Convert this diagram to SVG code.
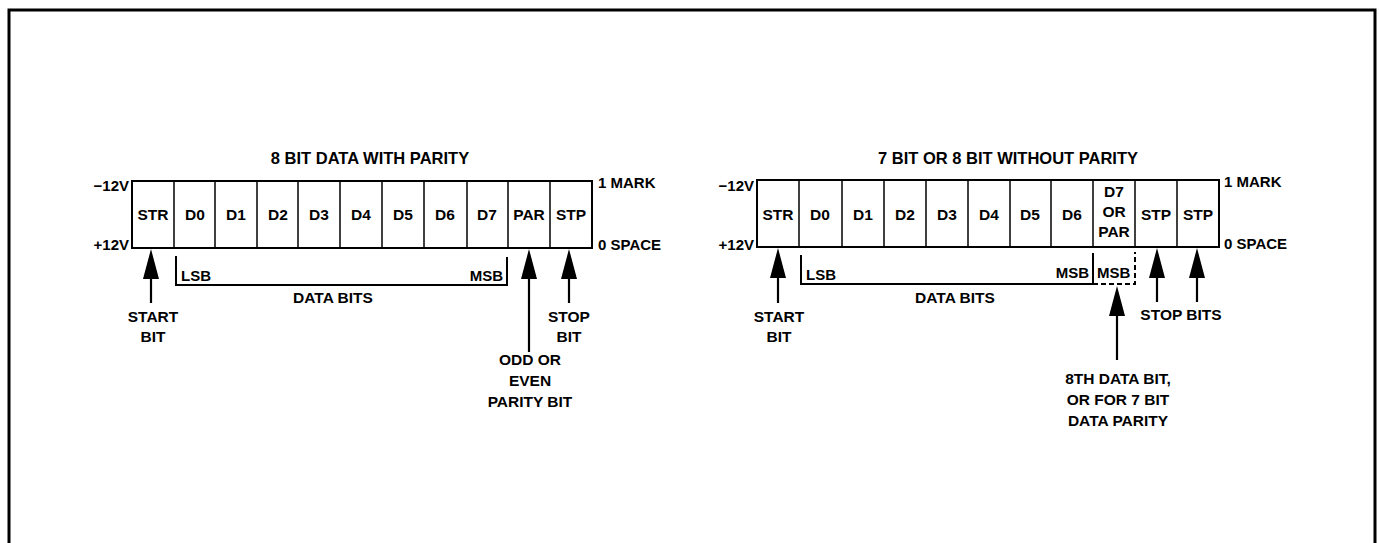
<svg xmlns="http://www.w3.org/2000/svg" width="1379" height="543" viewBox="0 0 1379 543">
<style>
text{font-family:"Liberation Sans",Arial,sans-serif;font-weight:bold;fill:#000}
.t{font-size:16.5px;text-anchor:middle}
.c{font-size:15.5px;text-anchor:middle}
.s{font-size:15px}
.r{text-anchor:end}
.l{font-size:15.5px;text-anchor:middle}
.box{fill:#fff;stroke:#000;stroke-width:2}
.div{stroke:#000;stroke-width:1.5}
.br{fill:none;stroke:#000;stroke-width:2}
.dash{fill:none;stroke:#000;stroke-width:2;stroke-dasharray:5 3}
.arr{stroke:#000;stroke-width:2.2;marker-end:url(#ah)}
</style>
<defs>
<marker id="ah" viewBox="0 0 30 16" refX="20" refY="8" markerWidth="30" markerHeight="16" markerUnits="userSpaceOnUse" orient="auto">
<path d="M0,0 L30,8 L0,16 z" fill="#000"/>
</marker>
</defs>
<rect width="1379" height="543" fill="#fff"/>
<path d="M9,545 V10 H1375 V545" fill="none" stroke="#000" stroke-width="3"/>

<g id="left-frame">
<text class="t" x="370" y="164">8 BIT DATA WITH PARITY</text>
<text class="s r" x="129" y="191">−12V</text>
<text class="s r" x="129" y="250">+12V</text>
<text class="s" x="598" y="188">1 MARK</text>
<text class="s" x="598" y="250">0 SPACE</text>
<rect class="box" x="132" y="181" width="460" height="67"/>
<g class="div">
<line x1="174" y1="181" x2="174" y2="248"/><line x1="215" y1="181" x2="215" y2="248"/>
<line x1="257" y1="181" x2="257" y2="248"/><line x1="298" y1="181" x2="298" y2="248"/>
<line x1="340" y1="181" x2="340" y2="248"/><line x1="382" y1="181" x2="382" y2="248"/>
<line x1="424" y1="181" x2="424" y2="248"/><line x1="467" y1="181" x2="467" y2="248"/>
<line x1="508" y1="181" x2="508" y2="248"/><line x1="550" y1="181" x2="550" y2="248"/>
</g>
<text class="c" x="153" y="220">STR</text>
<text class="c" x="195" y="220">D0</text>
<text class="c" x="236" y="220">D1</text>
<text class="c" x="278" y="220">D2</text>
<text class="c" x="319" y="220">D3</text>
<text class="c" x="361" y="220">D4</text>
<text class="c" x="403" y="220">D5</text>
<text class="c" x="445" y="220">D6</text>
<text class="c" x="487" y="220">D7</text>
<text class="c" x="529" y="220">PAR</text>
<text class="c" x="571" y="220">STP</text>
<text class="s" x="181" y="281">LSB</text>
<text class="s r" x="503" y="281">MSB</text>
<text class="l" x="333" y="303">DATA BITS</text>
<text class="l" x="153" y="322">START</text>
<text class="l" x="153" y="342">BIT</text>
<text class="l" x="569" y="322">STOP</text>
<text class="l" x="569" y="342">BIT</text>
<text class="l" x="530" y="365">ODD OR</text>
<text class="l" x="530" y="386">EVEN</text>
<text class="l" x="530" y="407">PARITY BIT</text>
</g>

<g id="right-frame">
<text class="t" x="1008" y="164">7 BIT OR 8 BIT WITHOUT PARITY</text>
<text class="s r" x="754" y="191">−12V</text>
<text class="s r" x="754" y="250">+12V</text>
<text class="s" x="1224" y="187">1 MARK</text>
<text class="s" x="1224" y="249">0 SPACE</text>
<rect class="box" x="757" y="180" width="462" height="67"/>
<g class="div">
<line x1="799" y1="180" x2="799" y2="247"/><line x1="842" y1="180" x2="842" y2="247"/>
<line x1="884" y1="180" x2="884" y2="247"/><line x1="926" y1="180" x2="926" y2="247"/>
<line x1="968" y1="180" x2="968" y2="247"/><line x1="1010" y1="180" x2="1010" y2="247"/>
<line x1="1051" y1="180" x2="1051" y2="247"/><line x1="1093" y1="180" x2="1093" y2="247"/>
<line x1="1135" y1="180" x2="1135" y2="247"/><line x1="1177" y1="180" x2="1177" y2="247"/>
</g>
<text class="c" x="778" y="220">STR</text>
<text class="c" x="820" y="220">D0</text>
<text class="c" x="863" y="220">D1</text>
<text class="c" x="905" y="220">D2</text>
<text class="c" x="947" y="220">D3</text>
<text class="c" x="989" y="220">D4</text>
<text class="c" x="1030" y="220">D5</text>
<text class="c" x="1072" y="220">D6</text>
<text class="c" x="1114" y="197">D7</text>
<text class="c" x="1114" y="217">OR</text>
<text class="c" x="1114" y="237">PAR</text>
<text class="c" x="1156" y="220">STP</text>
<text class="c" x="1198" y="220">STP</text>
<text class="s" x="806" y="280">LSB</text>
<text class="s r" x="1089" y="278">MSB</text>
<text class="s" x="1097" y="278">MSB</text>
<text class="l" x="955" y="303">DATA BITS</text>
<text class="l" x="779" y="322">START</text>
<text class="l" x="779" y="342">BIT</text>
<text class="l" x="1181" y="320">STOP BITS</text>
<text class="l" x="1118" y="384">8TH DATA BIT,</text>
<text class="l" x="1118" y="405">OR FOR 7 BIT</text>
<text class="l" x="1118" y="426">DATA PARITY</text>
</g>

<g id="connectors">
<path class="br" d="M176,256 V285 H507 V257"/>
<path class="br" d="M801,255 V284 H1093 V253"/>
<path class="dash" d="M1093,284 H1135 V252"/>
<line class="arr" x1="151" y1="303" x2="151" y2="259"/>
<line class="arr" x1="529" y1="352" x2="529" y2="259"/>
<line class="arr" x1="569" y1="303" x2="569" y2="259"/>
<line class="arr" x1="778" y1="303" x2="778" y2="258"/>
<line class="arr" x1="1117" y1="360" x2="1117" y2="296"/>
<line class="arr" x1="1157" y1="302" x2="1157" y2="258"/>
<line class="arr" x1="1197" y1="302" x2="1197" y2="258"/>
</g>
</svg>
